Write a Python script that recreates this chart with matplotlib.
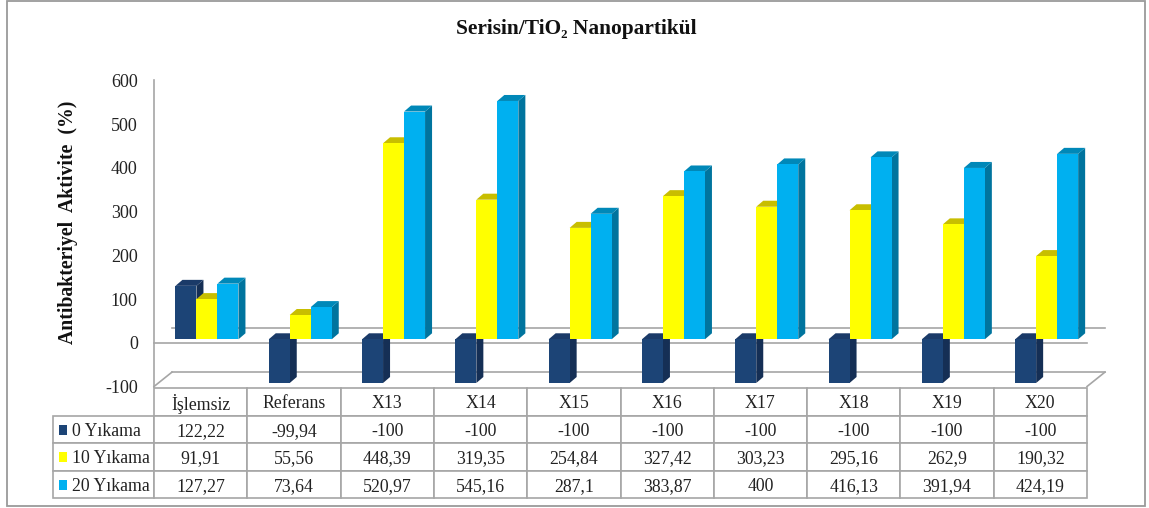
import matplotlib
matplotlib.use("Agg")
from matplotlib import pyplot as plt
from matplotlib.patches import Rectangle
from matplotlib.table import Table
import numpy as np

plt.rcParams['font.family'] = ['Liberation Serif', 'DejaVu Sans']
plt.rcParams['axes.unicode_minus'] = False

categories = ['İşlemsiz', 'Referans', 'X13', 'X14', 'X15', 'X16', 'X17', 'X18', 'X19', 'X20']
series_names = ['0 Yıkama', '10 Yıkama', '20 Yıkama']
yikama_0 = [122.22, -99.94, -100, -100, -100, -100, -100, -100, -100, -100]
yikama_10 = [91.91, 55.56, 448.39, 319.35, 254.84, 327.42, 303.23, 295.16, 262.9, 190.32]
yikama_20 = [127.27, 73.64, 520.97, 545.16, 287.1, 383.87, 400, 416.13, 391.94, 424.19]
y_ticks = [-100, 0, 100, 200, 300, 400, 500, 600]

# front, top, side colour of every series
colors = [('#1C4476', '#1A3A68', '#152F55'),
          ('#FFFF00', '#C8BE00', '#A8A000'),
          ('#00B0F0', '#0088B8', '#00749E')]
grey = '#A6A6A6'

W, H = 1149, 508
fig = plt.figure(figsize=(W / 100, H / 100), dpi=100)
fig.patch.set_facecolor('white')

# plot area in pixels of the picture
left, right, top, bottom = 154, 1087, 80.5, 386.5
ax = fig.add_axes([left / W, 1 - bottom / H, (right - left) / W, (bottom - top) / H])
ax.set_xlim(-0.5, 9.5)
ax.set_ylim(-100, 600)
ax.patch.set_alpha(0)

px_x = 10 / (right - left)
px_y = 700 / (bottom - top)


def axes_xy(x, y):
    return (x - left) / (right - left), (bottom - y) / (bottom - top)


# frame around the whole chart
fig.add_artist(Rectangle((6.5 / W, 1 - 506 / H), 1138.5 / W, 505 / H, transform=fig.transFigure,
                         fill=False, edgecolor='#9A9A9A', linewidth=1.3))

# walls of the 3d box
back_dx = 18 * px_x
back_dy = 14.4 * px_y
ax.plot([-0.5, 9.5], [0, 0], color=grey, lw=1.2, zorder=1, clip_on=False)
ax.plot([-0.5 + back_dx, 9.5 + back_dx], [back_dy, back_dy], color=grey, lw=1.2, zorder=1, clip_on=False)
ax.plot([-0.5 + back_dx, 9.5 + back_dx], [-100 + back_dy, -100 + back_dy], color=grey, lw=1.2, zorder=1, clip_on=False)
ax.plot([-0.5, -0.5 + back_dx], [-100, -100 + back_dy], color=grey, lw=1.2, zorder=1, clip_on=False)
ax.plot([9.5, 9.5 + back_dx], [-100, -100 + back_dy], color=grey, lw=1.2, zorder=1, clip_on=False)

# bars, front plane sits a bit above the axis zero
base = 8
bar_w = 21 * px_x
depth_x = 7 * px_x
depth_y = 6 * px_y
shift = 6.3 * px_x
x = np.arange(len(categories))
z = 3
for i, vals in enumerate([yikama_0, yikama_10, yikama_20]):
    xs = x + shift + (i - 1) * bar_w
    for xi, v in zip(xs, vals):
        x0, x1 = xi - bar_w / 2, xi + bar_w / 2
        y0, y1 = base + min(v, 0), base + max(v, 0)
        ax.fill([x1, x1 + depth_x, x1 + depth_x, x1],
                [y0, y0 + depth_y, y1 + depth_y, y1],
                color=colors[i][2], lw=0, zorder=z, clip_on=False)
        ax.fill([x0, x0 + depth_x, x1 + depth_x, x1],
                [y1, y1 + depth_y, y1 + depth_y, y1],
                color=colors[i][1], lw=0, zorder=z, clip_on=False)
    ax.bar(xs, vals, bar_w, bottom=base, color=colors[i][0], linewidth=0, zorder=z + 1, clip_on=False)
    z += 2

# axis
for s in ['top', 'right', 'bottom']:
    ax.spines[s].set_visible(False)
ax.spines['left'].set_color(grey)
ax.spines['left'].set_linewidth(1.2)
ax.set_xticks([])
ax.set_yticks(y_ticks)
ax.tick_params(axis='y', length=0, pad=11.7, labelsize=13, labelcolor='#222222')

fig.text(576 / W, 1 - 29 / H, 'Serisin/TiO₂ Nanopartikül', ha='center', va='center',
         fontsize=15.4, fontweight='bold', color='#111111')
fig.text(68 / W, 1 - 222 / H, 'Antibakteriyel  Aktivite  (%)', ha='center', va='center',
         rotation=90, fontsize=14.2, fontweight='bold', color='#111111')

# data table, built by hand so the top left corner stays empty
rows = [yikama_0, yikama_10, yikama_20]
cell_text = [['{:g}'.format(v).replace('.', ',') for v in r] for r in rows]
bx0, by0 = axes_xy(53, 498)
bx1, by1 = axes_xy(right, 388)
table = Table(ax, bbox=[bx0, by0, bx1 - bx0, by1 - by0])
label_w, col_w = 101, 93.3
for c, name in enumerate(categories):
    table.add_cell(0, c + 1, col_w, 1, text=name, loc='center')
for r, (name, texts) in enumerate(zip(series_names, cell_text)):
    cell = table.add_cell(r + 1, 0, label_w, 1, text=name, loc='left')
    cell.PAD = 0.19
    for c, t in enumerate(texts):
        table.add_cell(r + 1, c + 1, col_w, 1, text=t, loc='center')
table.auto_set_font_size(False)
table.set_fontsize(12.8)
for cell in table.get_celld().values():
    cell.set_edgecolor(grey)
    cell.set_linewidth(1.2)
    cell.get_text().set_color('#222222')
    cell.get_text().set_va('center_baseline')
ax.add_table(table)

# legend keys inside the row label cells
for i, yc in enumerate([429.5, 457, 484.5]):
    kx, ky = axes_xy(59, yc + 5)
    ax.add_patch(Rectangle((kx, ky), 8 / (right - left), 10 / (bottom - top), transform=ax.transAxes,
                           color=colors[i][0], lw=0, clip_on=False, zorder=10))

fig.savefig('out.png', dpi=100)
